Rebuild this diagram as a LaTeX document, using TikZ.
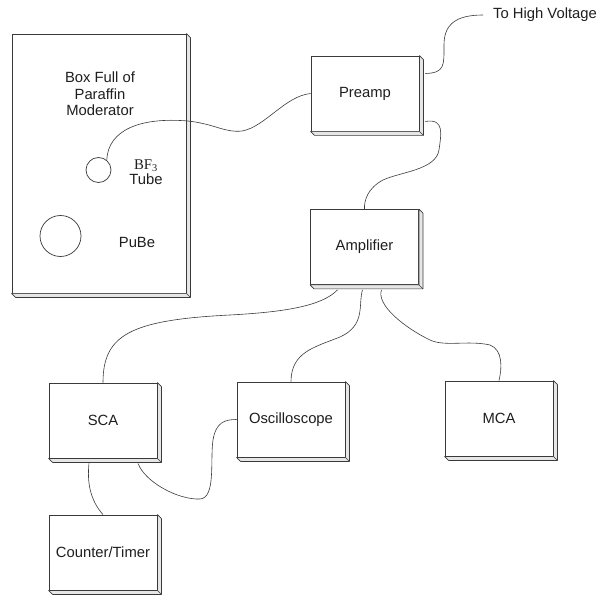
\documentclass[tikz,border=0pt]{standalone}
\usepackage{fontspec}
\setmainfont{Liberation Sans}
\newfontfamily\timesfont{Liberation Serif}
\usetikzlibrary{positioning}
\definecolor{edgeGray}{HTML}{3A3A3A}
\definecolor{bevelGray}{HTML}{E6E6E6}
\definecolor{inkGray}{HTML}{1E1E1E}
\newcommand{\labelfont}{\fontsize{14.8}{16.5}\selectfont}
\tikzset{
  unit/.style={draw=edgeGray, fill=white, line width=0.8pt,
        minimum width=108pt, minimum height=75pt, inner sep=0pt,
        align=center, font=\labelfont, text=inkGray},
  cable/.style={draw=edgeGray, line width=0.6pt},
  lbl/.style={font=\labelfont, text=inkGray, align=center, inner sep=0pt},
  src/.style={circle, draw=edgeGray, line width=0.7pt, inner sep=0pt}
}
\newcommand{\bevel}[1]{%
  \draw[draw=edgeGray, fill=bevelGray, line width=0.7pt, line join=round]
    (#1.north east) -- ++(4,4) -- ([shift={(4,4)}]#1.south east)
    -- ([shift={(4,4)}]#1.south west) -- (#1.south west)
    -- (#1.south east) -- cycle;
  \draw[draw=edgeGray, line width=0.6pt] (#1.south east) -- ++(4,4);}

\begin{document}
\begin{tikzpicture}[x=1pt, y=-1pt]
\useasboundingbox (0,0) rectangle (600,596);

\node[unit, minimum width=174pt, minimum height=259pt] (moder) at (99,163.5) {};
\node[lbl] (modtext) at (100,94) {Box Full of\\Paraffin\\Moderator};
\node[src, minimum size=25pt] (tube) at (98.5,170) {};
\node[lbl, font=\fontsize{14.8}{15}\selectfont] (tubetext) at (146,172.5) {{\timesfont BF\textsubscript{3}}\\Tube};
\node[src, minimum size=41pt] (pube) at (60.5,236) {};
\node[lbl] (pubetext) at (137,242) {PuBe};

\node[unit] (preamp) at (365,93.5)  {Preamp};
\node[unit] (amp)    at (364.5,247) {Amplifier};
\node[unit] (sca)    at (103,420.5) {SCA};
\node[unit] (osc)    at (291,419.5) {Oscilloscope};
\node[unit] (mca)    at (499,418.5) {MCA};
\node[unit] (ctr)    at (103,552.5) {Counter/Timer};
\node[lbl, anchor=west, inner xsep=10pt] (hv) at (483,15) {To High Voltage};

\foreach \b in {moder,preamp,amp,sca,osc,mca,ctr} {\bevel{\b}}

\draw[cable] (tube.50) .. controls (108,130) and (140,117) .. (188,121)
  .. controls (215,124) and (225,133) .. (242,131)
  .. controls (265,127) and (285,96) .. (preamp.west);
\draw[cable] ([shift={(6,-20)}]preamp.east) .. controls (445,73) and (444,65) .. (444,45)
  .. controls (444,25) and (455,15) .. (hv.west);
\draw[cable] ([shift={(6,28)}]preamp.east) .. controls (445,118) and (441,135) .. (439,150)
  .. controls (436,170) and (400,172) .. (383,180)
  .. controls (368,188) and (364,200) .. (amp.north);
\draw[cable] ([shift={(-27,5)}]amp.south) .. controls (322,306) and (285,312) .. (230,315)
  .. controls (130,320) and (103,335) .. (sca.north);
\draw[cable] ([shift={(-2,5)}]amp.south) .. controls (358,305) and (366,325) .. (340,337)
  .. controls (315,347) and (291,352) .. (osc.north);
\draw[cable] ([shift={(17,5)}]amp.south) .. controls (376,305) and (405,328) .. (430,340)
  .. controls (445,347) and (468,340) .. (490,345)
  .. controls (503,350) and (502,368) .. (mca.north);
\draw[cable] ([shift={(35,5)}]sca.south) .. controls (145,482) and (178,500) .. (200,499)
  .. controls (216,498) and (210,460) .. (213,440)
  .. controls (216,422) and (225,419.5) .. (osc.west);
\draw[cable] ([shift={(-14,5)}]sca.south) .. controls (87,482) and (90,500) .. (ctr.north);
\end{tikzpicture}
\end{document}
